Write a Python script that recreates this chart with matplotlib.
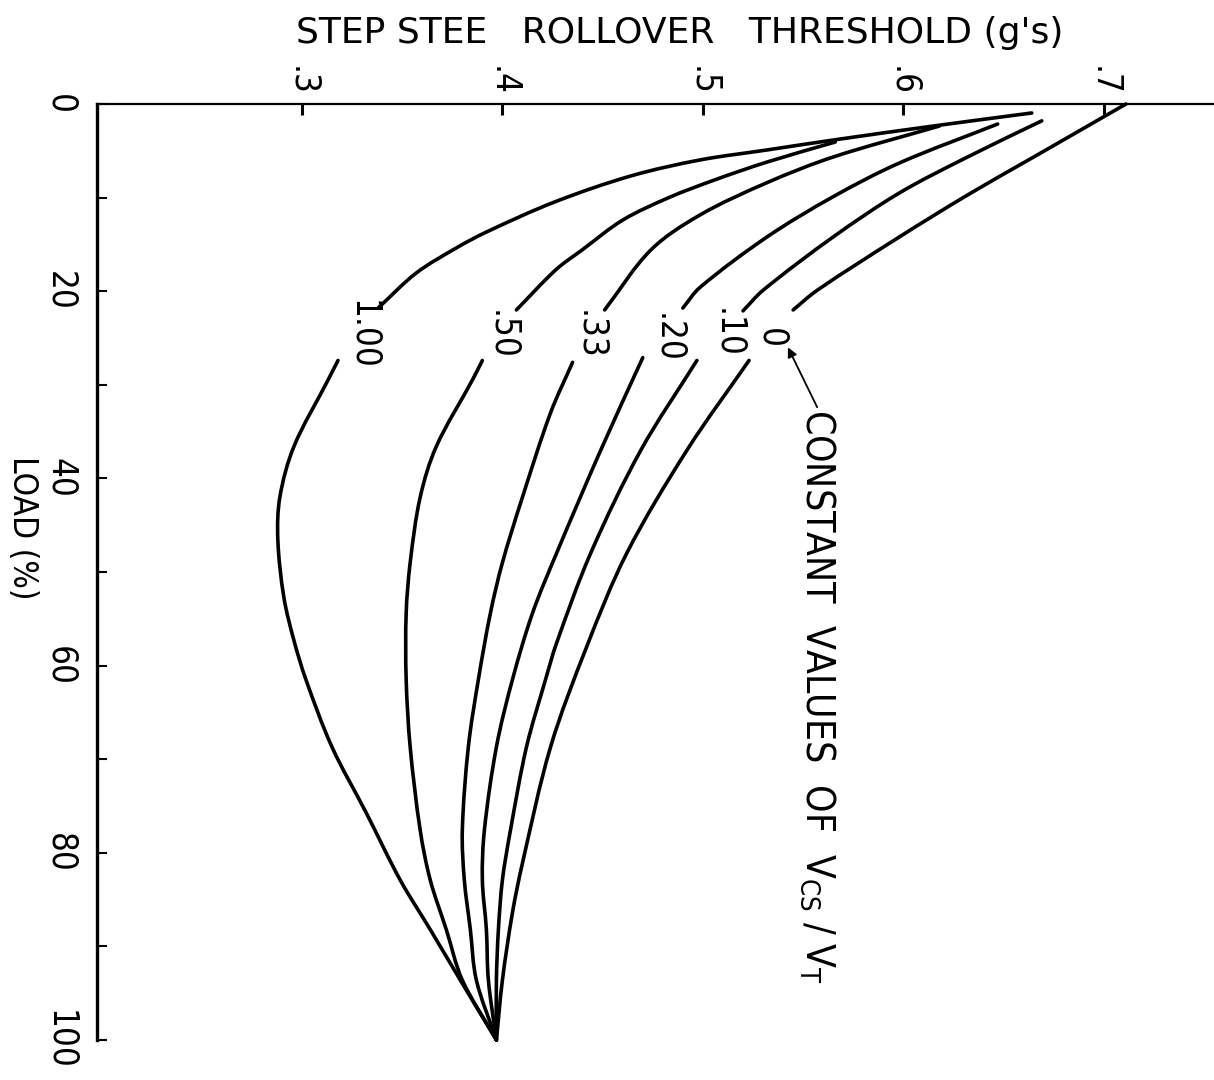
"""Step-steer rollover threshold vs load, for constant values of Vcs/VT."""
import numpy as np
import matplotlib; matplotlib.use("Agg")
import matplotlib.pyplot as plt
from matplotlib.path import Path
from matplotlib.patches import PathPatch

# ---- data: load (%) and threshold (g's), each curve broken at its label
LOAD_100_UP = [0.96, 2.35, 3.85, 4.91, 5.98, 7.69, 10.47, 13.68, 15.38, 18.06, 21.8]
G_100_UP = [0.664, 0.615, 0.565, 0.532, 0.4985, 0.464, 0.426, 0.392, 0.377, 0.357, 0.338]
LOAD_100_LO = [27.4, 29.5, 36.6, 42.0, 46.6, 52.7, 57.3, 61.5, 68.7, 75.7, 82.9, 88.2, 93.6, 100]
G_100_LO = [0.318, 0.313, 0.296, 0.289, 0.288, 0.291, 0.296, 0.302, 0.315, 0.332, 0.349, 0.364, 0.379, 0.397]

LOAD_50_UP = [4.06, 6.2, 8.1, 10.0, 12.4, 15.6, 17.7, 22.0]
G_50_UP = [0.566, 0.532, 0.506, 0.483, 0.460, 0.4397, 0.4267, 0.407]
LOAD_50_LO = [27.4, 29.5, 36.6, 42.0, 49.0, 54.4, 61.5, 68.7, 77.6, 82.9, 88.2, 93.6, 100]
G_50_LO = [0.390, 0.385, 0.367, 0.359, 0.354, 0.352, 0.352, 0.354, 0.359, 0.364, 0.372, 0.380, 0.397]

LOAD_33_UP = [2.35, 5.66, 8.4, 11.86, 15.6, 22.0]
G_33_UP = [0.618, 0.565, 0.532, 0.4985, 0.474, 0.451]
LOAD_33_LO = [27.6, 33.0, 42.0, 49.0, 54.4, 61.5, 68.7, 77.6, 82.9, 88.2, 93.6, 100]
G_33_LO = [0.435, 0.424, 0.410, 0.400, 0.394, 0.388, 0.383, 0.380, 0.381, 0.384, 0.387, 0.397]

LOAD_20_UP = [2.14, 6.3, 9.9, 14.2, 19.6, 21.8]
G_20_UP = [0.647, 0.598, 0.565, 0.532, 0.4985, 0.490]
LOAD_20_LO = [27.1, 37.0, 48.0, 54.4, 61.5, 68.7, 77.6, 82.9, 88.2, 93.6, 100]
G_20_LO = [0.470, 0.449, 0.427, 0.415, 0.405, 0.397, 0.391, 0.390, 0.392, 0.393, 0.397]

LOAD_10_UP = [1.8, 5.66, 9.5, 14.2, 19.9, 22.1]
G_10_UP = [0.669, 0.632, 0.598, 0.565, 0.530, 0.520]
LOAD_10_LO = [27.4, 37.0, 48.0, 57.6, 61.5, 68.7, 77.6, 82.9, 88.2, 93.6, 100]
G_10_LO = [0.497, 0.469, 0.444, 0.427, 0.4215, 0.412, 0.404, 0.400, 0.398, 0.397, 0.397]

LOAD_0_UP = [0.0, 5.66, 9.72, 14.2, 19.9, 22.0]
G_0_UP = [0.711, 0.665, 0.632, 0.598, 0.557, 0.545]
LOAD_0_LO = [27.4, 37.0, 48.0, 58.0, 68.7, 81.1, 86.4, 93.6, 100]
G_0_LO = [0.523, 0.492, 0.462, 0.442, 0.424, 0.410, 0.405, 0.400, 0.397]

CURVE_LABELS = ["1.00", ".50", ".33", ".20", ".10", "0"]
X_TICKS = [0.3, 0.4, 0.5, 0.6, 0.7]
X_TICK_LABELS = [".3", ".4", ".5", ".6", ".7"]
Y_TICKS = [0, 20, 40, 60, 80, 100]
Y_TICK_LABELS = ["0", "20", "40", "60", "80", "100"]

curves = [
    (LOAD_100_UP, G_100_UP, LOAD_100_LO, G_100_LO),
    (LOAD_50_UP, G_50_UP, LOAD_50_LO, G_50_LO),
    (LOAD_33_UP, G_33_UP, LOAD_33_LO, G_33_LO),
    (LOAD_20_UP, G_20_UP, LOAD_20_LO, G_20_LO),
    (LOAD_10_UP, G_10_UP, LOAD_10_LO, G_10_LO),
    (LOAD_0_UP, G_0_UP, LOAD_0_LO, G_0_LO),
]
# where each curve label sits (g, load)
label_pos = [(0.3305, 24.7), (0.400, 24.7), (0.4436, 24.7), (0.4825, 25.0), (0.5125, 24.5), (0.534, 25.0)]


def smooth(ax, xs, ys):
    # Hermite spline through the read points (chord-length in screen pixels), as cubic Beziers
    pts = np.column_stack([xs, ys]).astype(float)
    pix = ax.transData.transform(pts)
    t = np.concatenate([[0.0], np.cumsum(np.hypot(*np.diff(pix, axis=0).T))])
    n = len(pts)
    m = np.empty_like(pts)
    m[0] = (pts[1] - pts[0]) / (t[1] - t[0])
    m[-1] = (pts[-1] - pts[-2]) / (t[-1] - t[-2])
    for i in range(1, n - 1):
        m[i] = (pts[i + 1] - pts[i - 1]) / (t[i + 1] - t[i - 1])
    verts, codes = [pts[0]], [Path.MOVETO]
    for i in range(n - 1):
        h = t[i + 1] - t[i]
        verts += [pts[i] + m[i] * h / 3, pts[i + 1] - m[i + 1] * h / 3, pts[i + 1]]
        codes += [Path.CURVE4] * 3
    return Path(verts, codes)


plt.rcParams["font.family"] = "DejaVu Sans"
plt.rcParams["font.stretch"] = "condensed"
plt.rcParams["mathtext.default"] = "regular"

fig = plt.figure(figsize=(12.14, 10.8), dpi=100)
ax = fig.add_axes([97 / 1214, 40 / 1080, 1 - 97 / 1214, 936 / 1080])
ax.set_xlim(0.1978, 0.7549)
ax.set_ylim(100, 0)

for (lu, gu, ll, gl) in curves:
    for g, ld in ((gu, lu), (gl, ll)):
        ax.add_patch(PathPatch(smooth(ax, g, ld), fill=False, ec="black", lw=2.6,
                               capstyle="round", joinstyle="round", clip_on=False))

for txt, (gx, ly) in zip(CURVE_LABELS, label_pos):
    ax.text(gx, ly, txt, rotation=-90, ha="center", va="center", fontsize=25)

ax.text(0.5574, 32.6, "CONSTANT  VALUES  OF  $V_{CS}\\;/\\;V_{T}$", rotation=-90,
        ha="center", va="top", fontsize=28)
ax.annotate("", xy=(0.5424, 26.0), xytext=(0.5570, 32.4),
            arrowprops=dict(arrowstyle="-|>", color="black", lw=1.3, mutation_scale=14,
                            shrinkA=0, shrinkB=0))

ax.xaxis.tick_top()
ax.set_xticks(X_TICKS, X_TICK_LABELS, rotation=-90, fontsize=25)
ax.set_yticks(Y_TICKS, Y_TICK_LABELS, rotation=-90, fontsize=25, va="center")
ax.set_yticks([10, 30, 50, 70, 90], minor=True)
ax.tick_params(axis="x", direction="in", length=8, width=2.2, pad=6)
ax.tick_params(axis="y", which="both", direction="in", length=7, width=1.5, pad=14)
for s in ("right", "bottom"):
    ax.spines[s].set_visible(False)
ax.spines["left"].set_linewidth(2.4)
ax.spines["top"].set_linewidth(1.6)

fig.text(22 / 1214, 1 - 528 / 1080, "LOAD (%)", rotation=-90, ha="center", va="center", fontsize=24)
fig.text(680 / 1214, 1 - 33 / 1080, "STEP STEE   ROLLOVER   THRESHOLD (g's)", ha="center", va="center",
         fontsize=26, fontstretch="normal")

fig.savefig("out.png", dpi=100)
